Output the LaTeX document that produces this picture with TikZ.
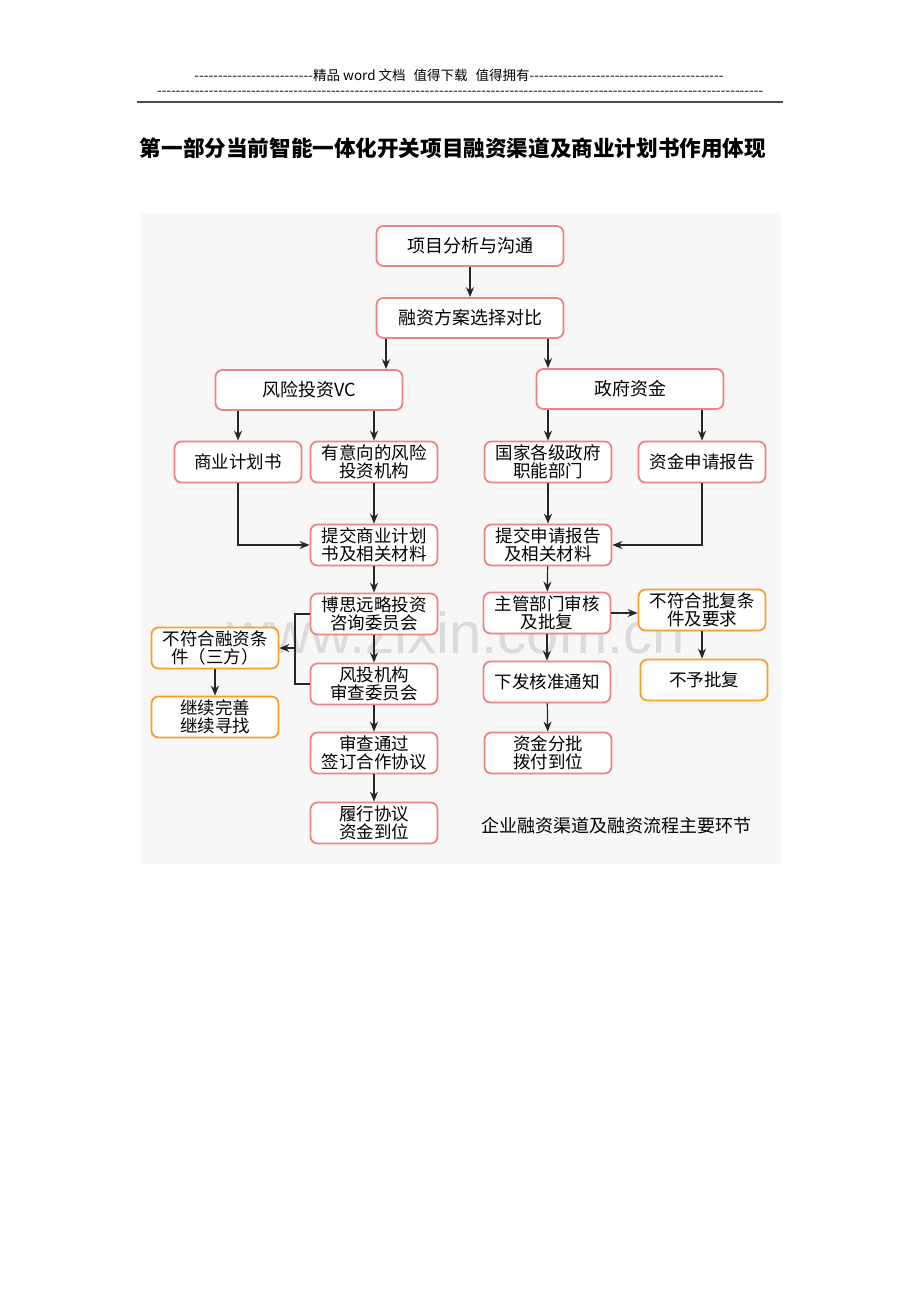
\documentclass[tikz,border=0pt]{standalone}
\usepackage{fontspec}
\setmainfont{Noto Sans CJK SC}
\newfontfamily\wmfont{Liberation Sans}
\usetikzlibrary{arrows.meta}
\definecolor{boxred}{RGB}{240,130,130}
\definecolor{boxorange}{RGB}{247,160,40}
\definecolor{panel}{RGB}{247,247,247}
\tikzset{
  flowbox/.style={draw=boxred, line width=1.8pt, fill=white, rounded corners=7pt,
    minimum width=127pt, minimum height=41pt, inner sep=0pt, align=center,
    font=\fontsize{17.5}{17.5}\selectfont},
  widebox/.style={flowbox, minimum width=187pt, minimum height=40pt, font=\fontsize{18}{18}\selectfont},
  failbox/.style={flowbox, draw=boxorange},
  arr/.style={-{Stealth[length=10pt,width=8pt]}, line width=1.2pt, draw=black!85}
}
\begin{document}
\begin{tikzpicture}[x=1pt, y=-1pt]
    \useasboundingbox (0,0) rectangle (920,1302);
    
    % Page header
    \node[anchor=west, inner sep=0pt, font=\fontsize{13.5}{13.5}\selectfont] (hdr) at (194,75)
        {\makebox[119pt]{\xleaders\hbox{-}\hfill}精品 word 文档\hspace{8pt}值得下载\hspace{8pt}值得拥有\makebox[194pt]{\xleaders\hbox{-}\hfill}};
    \node[anchor=west, inner sep=0pt, font=\fontsize{13.5}{13.5}\selectfont] (hdrdash) at (157,93)
        {\makebox[606pt]{\xleaders\hbox{-}\hfill}};
    \draw[line width=2pt, black!70] (137,102) -- (783,102);
    
    % Title
    \node[font=\fontsize{21.6}{21.6}\selectfont\bfseries] (title) at (453,148)
        {第一部分当前智能一体化开关项目融资渠道及商业计划书作用体现};
    
    % Panel and watermark
    \fill[panel] (141,213) rectangle (781,864);
    \node[anchor=base, text=black!14, inner sep=0pt, font=\fontsize{58}{58}\selectfont\wmfont] (mark) at (456,653)
        {www.zixin.com.cn};
    
    % Top of the flow
    \node[widebox] (proj) at (470,246) {项目分析与沟通};
    \node[widebox] (plan) at (470,318) {融资方案选择对比};
    
    % Two channels
    \node[widebox] (vc) at (309,390) {风险投资VC};
    \node[widebox] (gov) at (630,389) {政府资金};
    
    % Venture capital branch
    \node[flowbox] (bp) at (238,462) {商业计划书};
    \node[flowbox] (vcorg) at (374,462) {有意向的风险\\投资机构};
    \node[flowbox] (submitbp) at (374,545) {提交商业计划\\书及相关材料};
    \node[flowbox] (boss) at (374,614) {博思远略投资\\咨询委员会};
    \node[flowbox] (vcboard) at (374,684) {风投机构\\审查委员会};
    \node[flowbox] (pass) at (374,753) {审查通过\\签订合作协议};
    \node[flowbox] (done) at (374,823) {履行协议\\资金到位};
    \node[failbox] (nofin) at (215,648) {不符合融资条\\件（三方）};
    \node[failbox] (keep) at (215,717) {继续完善\\继续寻找};
    \coordinate (brk) at (295,648);
    
    % Government branch
    \node[flowbox] (dept) at (548,462) {国家各级政府\\职能部门};
    \node[flowbox] (apply) at (702,462) {资金申请报告};
    \node[flowbox] (submitap) at (548,545) {提交申请报告\\及相关材料};
    \node[flowbox] (review) at (547,613) {主管部门审核\\及批复};
    \node[flowbox] (notice) at (547,682) {下发核准通知};
    \node[flowbox] (fund) at (548,753) {资金分批\\拨付到位};
    \node[failbox] (nogov) at (702,610) {不符合批复条\\件及要求};
    \node[failbox] (reject) at (704,680) {不予批复};
    
    % Caption
    \node[font=\fontsize{18}{18}\selectfont] (caption) at (616,826) {企业融资渠道及融资流程主要环节};
    
    % Arrows
    \draw[arr] (proj) -- (plan);
    \draw[arr] ([xshift=-84pt]plan.south) -- ([xshift=-84pt]plan.south |- vc.north);
    \draw[arr] ([xshift=78pt]plan.south) -- ([xshift=78pt]plan.south |- gov.north);
    
    \draw[arr] (vc.south -| bp) -- (bp);
    \draw[arr] (vc.south -| vcorg) -- (vcorg);
    \draw[arr] (gov.south -| dept) -- (dept);
    \draw[arr] (gov.south -| apply) -- (apply);
    
    \draw[arr] (vcorg) -- (submitbp);
    \draw[arr] (bp) |- (submitbp);
    \draw[arr] (submitbp) -- (boss);
    \draw[arr] (boss) -- (vcboard);
    \draw[arr] (vcboard) -- (pass);
    \draw[arr] (pass) -- (done);
    \draw[line width=1.2pt, black!85] (boss.west) -| (brk) |- (vcboard.west);
    \draw[arr] (brk) -- (nofin);
    \draw[arr] (nofin) -- (keep);
    
    \draw[arr] (dept) -- (submitap);
    \draw[arr] (apply) |- (submitap);
    \draw[arr] (submitap) -- (review);
    \draw[arr] (review) -- (notice);
    \draw[arr] (notice) -- (fund);
    \draw[arr] (review.east) -- (review.east -| nogov.west);
    \draw[arr] (nogov.south) -- (nogov.south |- reject.north);
\end{tikzpicture}
\end{document}
